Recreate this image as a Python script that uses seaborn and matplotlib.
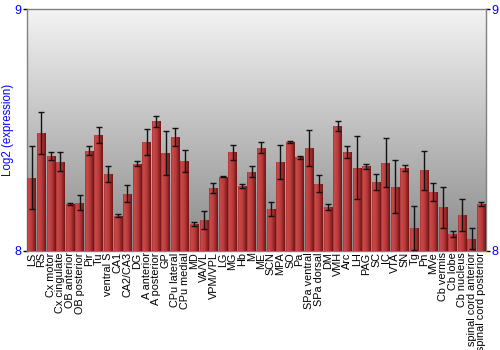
import numpy as np
import pandas as pd
import matplotlib
matplotlib.use("Agg")
import matplotlib.pyplot as plt
import seaborn as sns
from matplotlib.colors import LinearSegmentedColormap

regions = ["LS", "RS", "Cx motor", "Cx cingulate", "OB anterior", "OB posterior", "Pir", "Tu",
           "ventral S", "CA1", "CA2/CA3", "DG", "A anterior", "A posterior", "GP", "CPu lateral",
           "CPu medial", "MD", "VA/VL", "VPM/VPL", "LG", "MG", "Hb", "M", "ME", "SCN", "MPA",
           "SO", "Pa", "SPa ventral", "SPa dorsal", "DM", "VMH", "Arc", "LH", "PAG", "SC", "IC",
           "VTA", "SN", "Tg", "Pn", "MVe", "Cb vermis", "Cb lobe", "Cb nucleus",
           "spinal cord anterior", "spinal cord posterior"]
expression = [8.303, 8.488, 8.393, 8.369, 8.195, 8.200, 8.414, 8.481,
              8.318, 8.145, 8.236, 8.361, 8.449, 8.536, 8.406, 8.471,
              8.372, 8.112, 8.127, 8.260, 8.306, 8.409, 8.270, 8.328, 8.427, 8.174, 8.368,
              8.449, 8.388, 8.427, 8.278, 8.183, 8.517, 8.410, 8.344, 8.350, 8.285, 8.365,
              8.266, 8.343, 8.094, 8.333, 8.245, 8.180, 8.071, 8.149,
              8.051, 8.194]
error = [0.130, 0.088, 0.018, 0.040, 0.005, 0.030, 0.019, 0.033,
         0.032, 0.006, 0.035, 0.010, 0.054, 0.023, 0.090, 0.039,
         0.044, 0.009, 0.038, 0.019, 0.002, 0.031, 0.008, 0.023, 0.022, 0.030, 0.070,
         0.004, 0.006, 0.075, 0.036, 0.012, 0.022, 0.025, 0.131, 0.011, 0.034, 0.100,
         0.108, 0.011, 0.090, 0.080, 0.038, 0.086, 0.012, 0.066,
         0.045, 0.007]
y_ticks = [8, 9]
y_label = "Log2 (expression)"

df = pd.DataFrame({"region": regions, "expression": expression, "error": error})

sns.set_theme(style="white")
plt.rcParams['font.family'] = ['Liberation Sans', 'DejaVu Sans']

fig = plt.figure(figsize=(5, 3.5), dpi=100)
ax = fig.add_axes([0.054, 0.283, 0.918, 0.691])

# background gradient
bg = LinearSegmentedColormap.from_list("bg", [(0.0, "#8a8a8a"), (1.0, "#f3f3f3")])
grad = np.linspace(0, 1, 256).reshape(-1, 1)
ax.imshow(grad, cmap=bg, aspect="auto", extent=[0, 1, 0, 1], origin="lower",
          transform=ax.transAxes, zorder=0)

sns.barplot(data=df, x="region", y="expression", color="#b83838", width=0.9,
            errorbar=None, ax=ax, zorder=2, edgecolor="none")

ax.set_ylim(8, 9)
ax.set_xlim(-0.5, len(regions) - 0.5)

barcm = LinearSegmentedColormap.from_list(
    "bar", [(0.0, "#a03030"), (0.12, "#cc4a4a"), (0.55, "#b83a3a"), (1.0, "#6e1414")])
hgrad = np.linspace(0, 1, 64).reshape(1, -1)
for p in ax.patches:
    x0 = p.get_x(); w = p.get_width(); h = p.get_height() + p.get_y()
    im = ax.imshow(hgrad, cmap=barcm, aspect="auto", extent=[x0, x0 + w, 8, h],
                   origin="lower", zorder=3)
    im.set_clip_path(p)

ax.errorbar(np.arange(len(regions)), df["expression"], yerr=df["error"], fmt="none",
            ecolor="#111111", elinewidth=1, capsize=2.2, capthick=1, zorder=4)

ax.set_xlabel("")
ax.set_ylabel(y_label, color="blue", fontsize=8.3, va="center")
ax.yaxis.set_label_coords(-0.041, 0.5)
ax.set_yticks(y_ticks)
ax.set_yticklabels([str(t) for t in y_ticks])
ax.tick_params(axis="y", which="both", left=True, right=True, labelleft=True, labelright=True,
               labelcolor="blue", labelsize=9, length=3, width=1, color="black", pad=1, direction="out")
ax.set_xticks(range(len(regions)))
ax.set_xticklabels(regions, rotation=90, va="top")
ax.tick_params(axis="x", labelsize=7.8, length=0, pad=1, labelcolor="black")
for s in ["left", "top", "right", "bottom"]:
    ax.spines[s].set_visible(True)
    ax.spines[s].set_color("#808080")
    ax.spines[s].set_linewidth(1)
ax.grid(False)

fig.savefig("out.png", dpi=100)
